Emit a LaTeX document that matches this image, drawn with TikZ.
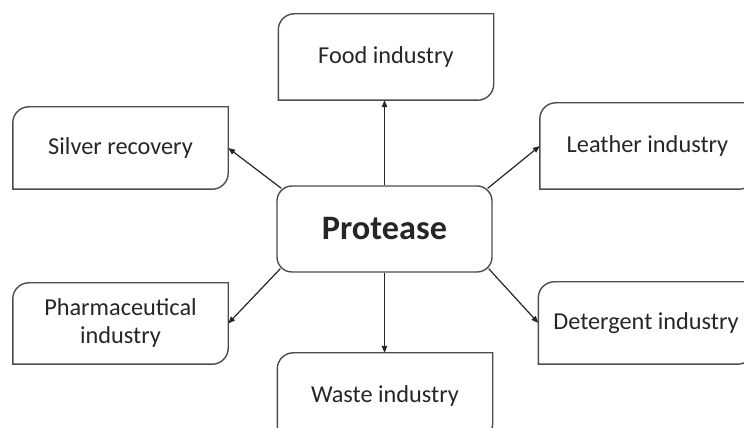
\documentclass[tikz,border=0pt]{standalone}
\usepackage{fontspec}
\setmainfont{Carlito}
\usetikzlibrary{arrows.meta}
\definecolor{edgegray}{HTML}{4D4D4D}
\definecolor{inkgray}{HTML}{262626}

\tikzset{
  appbox/.style={minimum width=215pt, minimum height=#1, inner sep=0pt, align=center,
    text=inkgray, font=\fontsize{24.3}{28}\selectfont,
    append after command={\pgfextra{\draw[edgegray,line width=1.4pt]
      (\tikzlastnode.south west) -- (\tikzlastnode.west)
      [rounded corners=16pt] -- (\tikzlastnode.north west) -- (\tikzlastnode.north)
      [sharp corners] -- (\tikzlastnode.north east) -- (\tikzlastnode.east)
      [rounded corners=16pt] -- (\tikzlastnode.south east) -- (\tikzlastnode.south)
      [sharp corners] -- cycle;}}},
  appbox/.default=86pt,
  link/.style={draw=inkgray, line width=1.2pt, -{Triangle[length=7pt,width=5.5pt]}}
}

\begin{document}
\begin{tikzpicture}[x=1pt,y=1pt]
\useasboundingbox (0,0) rectangle (744,428);
\node[draw=edgegray, line width=1.4pt, rounded corners=15pt, minimum width=215pt, minimum height=86pt,
  text=inkgray, font=\fontsize{34.3}{40}\selectfont\bfseries] (protease) at (384.5,199) {Protease};
\node[appbox] (food) at (386,371) {Food industry};
\node[appbox=82pt] (silver) at (120.5,280) {Silver recovery};
\node[appbox] (leather) at (647.5,282) {Leather industry};
\node[appbox=81pt] (pharma) at (120.5,104.5) {Pharmaceutical\\industry};
\node[appbox=82pt] (detergent) at (646,105) {Detergent industry};
\node[appbox] (waste) at (385,32) {Waste industry};
\draw[link] (protease.north) -- (protease.north |- food.south);
\draw[link] (protease.south) -- (protease.south |- waste.north);
\draw[link] ([xshift=5pt,yshift=-3pt]protease.north west) -- (silver.east);
\draw[link] ([xshift=-5pt,yshift=-3pt]protease.north east) -- (leather.west);
\draw[link] ([xshift=4pt,yshift=4pt]protease.south west) -- (pharma.east);
\draw[link] ([xshift=-4pt,yshift=4pt]protease.south east) -- (detergent.west);
\end{tikzpicture}
\end{document}
